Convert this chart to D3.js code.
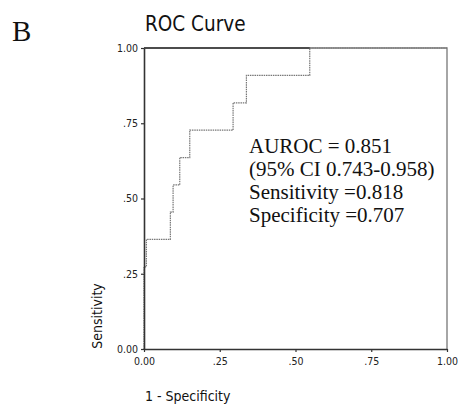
<!DOCTYPE html>
<html><head><meta charset="utf-8">
<script src="https://cdn.jsdelivr.net/npm/d3@7"></script>
<style>
html,body{margin:0;padding:0;background:#fff;}
svg{display:block;}
</style></head>
<body>
<svg id="chart" width="460" height="410"></svg>
<script>
// ROC curve vertices (step-after): 1 - specificity, sensitivity
const fpr = [0, 0, 0.008, 0.087, 0.096, 0.118, 0.151, 0.294, 0.338, 0.547, 1];
const tpr = [0, 0.273, 0.364, 0.455, 0.545, 0.636, 0.727, 0.818, 0.909, 1, 1];
const tickValues = [0, 0.25, 0.5, 0.75, 1];
const tickLabels = ["0.00", ".25", ".50", ".75", "1.00"];
const annotation = ["AUROC = 0.851", "(95% CI 0.743-0.958)", "Sensitivity =0.818", "Specificity =0.707"];
const panelLabel = "B";
const title = "ROC Curve";
const xTitle = "1 - Specificity";
const yTitle = "Sensitivity";

const svg = d3.select("#chart");
const x = d3.scaleLinear().domain([0, 1]).range([144, 447]);
const y = d3.scaleLinear().domain([0, 1]).range([349, 48]);
const sans = "'DejaVu Sans Condensed','DejaVu Sans',sans-serif";
const serif = "'Liberation Serif','Times New Roman',serif";

// frame (top and right)
svg.append("path")
  .attr("d", `M${x(0)},${y(1)}H${x(1)}V${y(0)}`)
  .attr("fill", "none").attr("stroke", "#777").attr("stroke-width", 1.3);

// curve
const pts = fpr.map((f, i) => [f, tpr[i]]);
const line = d3.line().x(d => x(d[0])).y(d => y(d[1])).curve(d3.curveStepAfter);
svg.append("path").datum(pts)
  .attr("d", line)
  .attr("fill", "none").attr("stroke", "#777").attr("stroke-width", 1.2)
  .attr("stroke-dasharray", "1.5,0.8");

// darker top segment where curve meets the frame
svg.append("line")
  .attr("x1", x(0)).attr("x2", x(fpr[fpr.length - 2]))
  .attr("y1", y(1)).attr("y2", y(1))
  .attr("stroke", "#333").attr("stroke-width", 1.4);

// axes
const fmt = (d) => tickLabels[tickValues.indexOf(d)];
const xAxis = d3.axisBottom(x).tickValues(tickValues).tickFormat(fmt).tickSizeInner(3).tickSizeOuter(0).tickPadding(6);
const yAxis = d3.axisLeft(y).tickValues(tickValues).tickFormat(fmt).tickSizeInner(3).tickSizeOuter(0).tickPadding(3);
const gx = svg.append("g").attr("transform", `translate(0,${y(0)})`).call(xAxis);
const gy = svg.append("g").attr("transform", `translate(${x(0)},0)`).call(yAxis);
[gx, gy].forEach(g => {
  g.select(".domain").attr("stroke", "#333").attr("stroke-width", 1.6);
  g.selectAll(".tick line").attr("stroke", "#333").attr("stroke-width", 1.2);
  g.selectAll(".tick text").attr("fill", "#222").style("font-family", sans).style("font-size", "10.5px");
});

// titles
svg.append("text").text(panelLabel)
  .attr("x", 12).attr("y", 41)
  .style("font-family", serif).style("font-size", "29px").attr("fill", "#111");
svg.append("text").text(title)
  .attr("x", 145).attr("y", 31)
  .style("font-family", sans).style("font-size", "20.5px").attr("fill", "#111");
svg.append("text").text(xTitle)
  .attr("x", 145).attr("y", 401)
  .style("font-family", sans).style("font-size", "14px").attr("fill", "#111");
svg.append("text").text(yTitle)
  .attr("transform", `translate(102,316) rotate(-90)`)
  .attr("text-anchor", "middle")
  .style("font-family", sans).style("font-size", "14px").attr("fill", "#111");

// annotation
svg.append("g").selectAll("text").data(annotation).join("text")
  .attr("x", 249)
  .attr("y", (d, i) => 153 + i * 23)
  .text(d => d)
  .style("font-family", serif).style("font-size", "21px").attr("fill", "#111");
</script>
</body></html>
